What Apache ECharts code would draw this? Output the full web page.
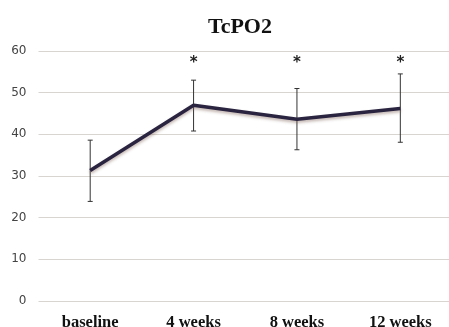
<!DOCTYPE html>
<html><head><meta charset="utf-8">
<script src="https://cdn.jsdelivr.net/npm/echarts@6/dist/echarts.min.js"></script>
<style>html,body{margin:0;padding:0;background:#fff}#c{width:449px;height:327px}</style>
</head><body><div id="c"></div>
<script>
var categories = ['baseline', '4 weeks', '8 weeks', '12 weeks'];
var means = [31.3, 47.0, 43.6, 46.2];
var upper = [38.6, 53.0, 51.0, 54.5];
var lower = [23.9, 40.8, 36.3, 38.1];
var marks = ['', '*', '*', '*'];
var markLevel = 57.2;
var yTicks = [0, 10, 20, 30, 40, 50, 60];

var chart = echarts.init(document.getElementById('c'));
chart.setOption({
  animation: false,
  title: {text: 'TcPO2', left: 235, top: 11, textAlign: 'center',
    textStyle: {fontFamily: 'Liberation Serif', fontWeight: 'bold', fontSize: 22, color: '#111'}},
  grid: {left: 38.5, right: -3, top: 51, bottom: 26, outerBoundsMode: 'none', containLabel: false},
  xAxis: {type: 'category', data: categories, boundaryGap: true,
    axisLine: {show: false}, axisTick: {show: false},
    axisLabel: {fontFamily: 'Liberation Serif', fontWeight: 'bold', fontSize: 16.5, color: '#111', margin: 13}},
  yAxis: {type: 'value', min: yTicks[0], max: yTicks[yTicks.length-1], interval: 10,
    axisLine: {show: false}, axisTick: {show: false},
    axisLabel: {fontFamily: 'DejaVu Sans', fontSize: 12, color: '#444', margin: 12},
    splitLine: {lineStyle: {color: '#d8d4cf', width: 1}}},
  series: [
    {type: 'custom', z: 3, data: categories.map(function(c, i){ return [i, lower[i], upper[i]]; }),
      renderItem: function(params, api){
        var lo = api.coord([api.value(0), api.value(1)]);
        var hi = api.coord([api.value(0), api.value(2)]);
        var w = 2.5;
        var st = {stroke: '#333', lineWidth: 1};
        return {type: 'group', children: [
          {type: 'line', shape: {x1: hi[0], y1: hi[1], x2: lo[0], y2: lo[1]}, style: st},
          {type: 'line', shape: {x1: hi[0]-w, y1: hi[1], x2: hi[0]+w, y2: hi[1]}, style: st},
          {type: 'line', shape: {x1: lo[0]-w, y1: lo[1], x2: lo[0]+w, y2: lo[1]}, style: st}
        ]};
      }},
    {type: 'line', z: 4, data: means, symbol: 'none',
      lineStyle: {color: '#2b2440', width: 3.5, shadowColor: 'rgba(120,90,80,0.45)', shadowBlur: 3, shadowOffsetY: 2}},
    {type: 'custom', z: 5, data: categories.map(function(c, i){ return [i, markLevel, marks[i]]; }),
      renderItem: function(params, api){
        var p = api.coord([api.value(0), api.value(1)]);
        return {type: 'text', x: p[0], y: p[1], style: {text: marks[params.dataIndex], fill: '#222',
          font: 'bold 15px "DejaVu Sans"', align: 'center', verticalAlign: 'middle'}};
      }}
  ]
});
</script></body></html>
